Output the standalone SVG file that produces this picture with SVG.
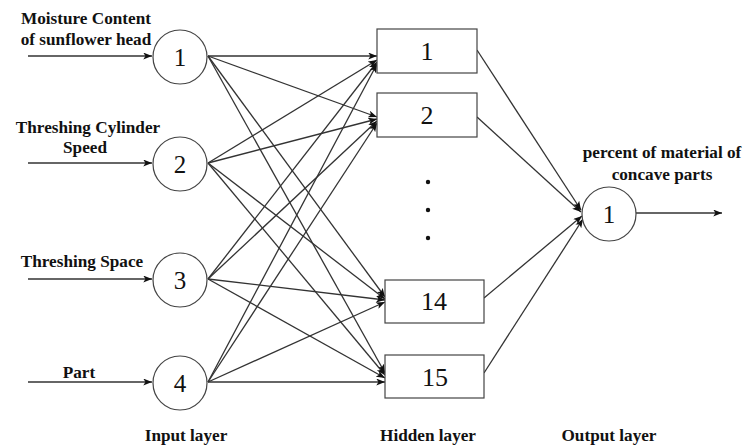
<svg xmlns="http://www.w3.org/2000/svg" width="746" height="446" viewBox="0 0 746 446">
<style>
text{font-family:'Liberation Serif','Times New Roman',Times,serif;fill:#111;text-anchor:middle}
.lbl{font-weight:bold;font-size:17.2px}
.num{font-size:25px}
.bnum{font-size:26px}
.node{fill:#fff;stroke:#444;stroke-width:1.2}
.c line{stroke:#333;stroke-width:1.3;marker-end:url(#ah)}
</style>
<defs>
<marker id="ah" viewBox="0 0 10 8" refX="10" refY="4" markerWidth="9" markerHeight="7" markerUnits="userSpaceOnUse" orient="auto">
<path d="M0,0 L10,4 L0,8 L2.5,4 Z" fill="#111"/>
</marker>
</defs>
<rect width="746" height="446" fill="#fff"/>
<g class="c" id="connectors">
<line x1="28" y1="56" x2="152" y2="56"/>
<line x1="28" y1="163" x2="152" y2="163"/>
<line x1="28" y1="279" x2="152" y2="279"/>
<line x1="28" y1="382" x2="152" y2="382"/>
<line x1="208" y1="56" x2="377" y2="56"/>
<line x1="208" y1="56" x2="377" y2="117"/>
<line x1="208" y1="56" x2="385" y2="297"/>
<line x1="208" y1="56" x2="385" y2="373"/>
<line x1="208" y1="163" x2="377" y2="60"/>
<line x1="208" y1="163" x2="377" y2="119"/>
<line x1="208" y1="163" x2="385" y2="299"/>
<line x1="208" y1="163" x2="385" y2="375"/>
<line x1="208" y1="279" x2="377" y2="62"/>
<line x1="208" y1="279" x2="377" y2="121"/>
<line x1="208" y1="279" x2="385" y2="300"/>
<line x1="208" y1="279" x2="385" y2="378"/>
<line x1="208" y1="382" x2="377" y2="64"/>
<line x1="208" y1="382" x2="377" y2="123"/>
<line x1="208" y1="382" x2="385" y2="302"/>
<line x1="208" y1="382" x2="385" y2="382"/>
<line x1="477" y1="50" x2="581" y2="210"/>
<line x1="477" y1="117" x2="581" y2="212"/>
<line x1="484" y1="298" x2="582" y2="216"/>
<line x1="484" y1="373" x2="583" y2="219"/>
<line x1="636" y1="213" x2="722" y2="213"/>
</g>
<g id="in1"><circle class="node" cx="180" cy="57" r="27"/><text class="num" x="180" y="66">1</text></g>
<g id="in2"><circle class="node" cx="180" cy="164" r="27"/><text class="num" x="180" y="173">2</text></g>
<g id="in3"><circle class="node" cx="180" cy="280" r="27"/><text class="num" x="180" y="289">3</text></g>
<g id="in4"><circle class="node" cx="180" cy="383" r="27"/><text class="num" x="180" y="392">4</text></g>
<g id="h1"><rect class="node" x="377" y="29" width="100" height="44"/><text class="bnum" x="427" y="60">1</text></g>
<g id="h2"><rect class="node" x="377" y="93" width="100" height="44"/><text class="bnum" x="427" y="124">2</text></g>
<g id="h14"><rect class="node" x="385" y="280" width="99" height="43"/><text class="bnum" x="434" y="310">14</text></g>
<g id="h15"><rect class="node" x="385" y="355" width="99" height="43"/><text class="bnum" x="435" y="386">15</text></g>
<g id="dots" fill="#111"><circle cx="428" cy="182" r="2.2"/><circle cx="428" cy="210" r="2.2"/><circle cx="428" cy="238" r="2.2"/></g>
<g id="out1"><circle class="node" cx="609" cy="214" r="27"/><text class="num" x="609" y="223">1</text></g>
<g id="labels">
<text class="lbl" x="86" y="24">Moisture Content</text>
<text class="lbl" x="86" y="45">of sunflower head</text>
<text class="lbl" x="88" y="133">Threshing Cylinder</text>
<text class="lbl" x="85" y="153">Speed</text>
<text class="lbl" x="82" y="267">Threshing Space</text>
<text class="lbl" x="79" y="378">Part</text>
<text class="lbl" x="662" y="158">percent of material of</text>
<text class="lbl" x="662" y="180">concave parts</text>
<text class="lbl" x="186" y="441">Input  layer</text>
<text class="lbl" x="428" y="441">Hidden layer</text>
<text class="lbl" x="609" y="441">Output  layer</text>
</g>
</svg>
